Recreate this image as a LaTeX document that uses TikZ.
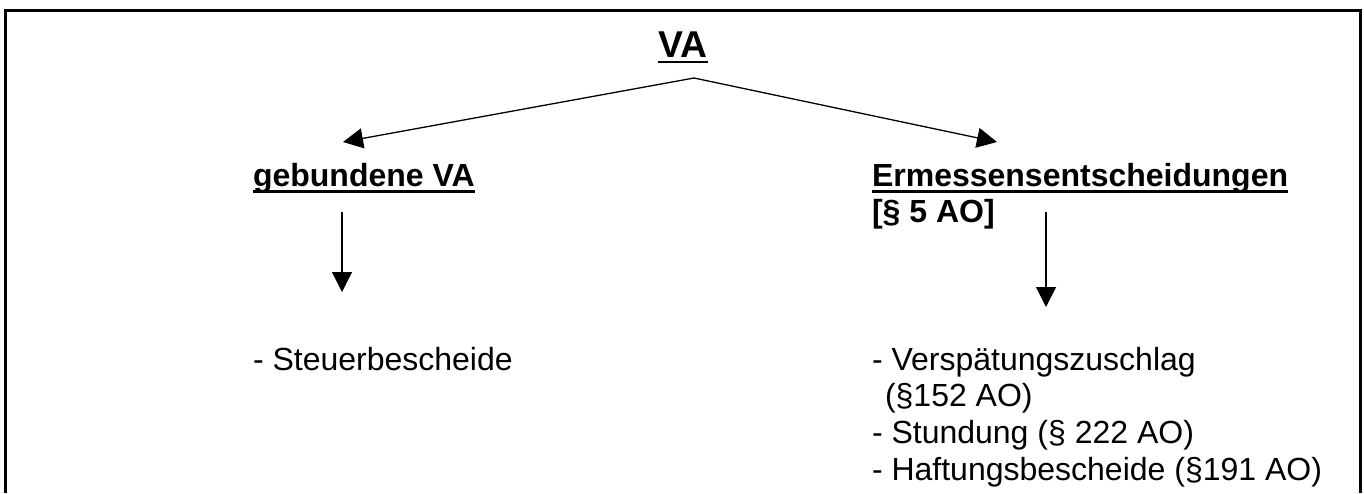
\documentclass[tikz,border=0pt]{standalone}
\usepackage{fontspec}
\setmainfont{Liberation Sans}
\usetikzlibrary{arrows.meta,calc}
\begin{document}
\begin{tikzpicture}[x=0.5pt,y=-0.5pt,
  lbl/.style={inner sep=0pt, outer sep=0pt, anchor=base west,
    font=\fontsize{16pt}{18.4pt}\selectfont},
  head/.style={lbl, font=\fontsize{16pt}{18.4pt}\selectfont\bfseries},
  title/.style={inner sep=0pt, outer sep=0pt, anchor=base,
    font=\fontsize{18.67pt}{21.5pt}\selectfont\bfseries},
  uline/.style={line width=1.25pt},
  frame/.style={line width=1.35pt, line join=miter},
  tip/.tip={Triangle[length=10pt,width=10pt]},
  arr/.style={line width=0.65pt, -tip},
  arrboth/.style={line width=0.65pt, tip-tip, line join=miter},
]
\useasboundingbox (0,0) rectangle (1364,493);

% open frame (no bottom edge)
\draw[frame] (5.5,493) -- (5.5,10.5) -- (1360.5,10.5) -- (1360.5,493);

% headings
\node[title] (va) at (683,57) {VA};
\draw[uline] ($(va.base west)+(0,5)$) -- ($(va.base east)+(0,5)$);

\node[head] (geb) at (253,186) {gebundene VA};
\draw[uline] ($(geb.base west)+(0,5.5)$) -- ($(geb.base east)+(0,5.5)$);

\node[head] (erm) at (872,186) {Ermessensentscheidungen};
\draw[uline] ($(erm.base west)+(0,5.5)$) -- ($(erm.base east)+(0,5.5)$);
\node[head] (par) at (872,222.7) {[§ 5 AO]};

% lists
\node[lbl] (steu) at (253,370) {- Steuerbescheide};
\node[lbl] (v1) at (872,370) {- Verspätungszuschlag};
\node[lbl] (v2) at (872,406.7) {\hspace{6.5pt}(§152 AO)};
\node[lbl] (v3) at (872,443.4) {- Stundung (§ 222 AO)};
\node[lbl] (v4) at (872,480) {- Haftungsbescheide (§191 AO)};

% connectors
\coordinate (apex) at (694,78);
\coordinate (ltip) at (343,142);
\coordinate (rtip) at (997,142);
\draw[arrboth] (ltip) -- (apex) -- (rtip);

\coordinate (ls) at (342,212);
\coordinate (le) at (342,292);
\coordinate (rs) at (1046,212);
\coordinate (re) at (1046,307);
\draw[arr] (ls) -- (le);
\draw[arr] (rs) -- (re);
\end{tikzpicture}
\end{document}
